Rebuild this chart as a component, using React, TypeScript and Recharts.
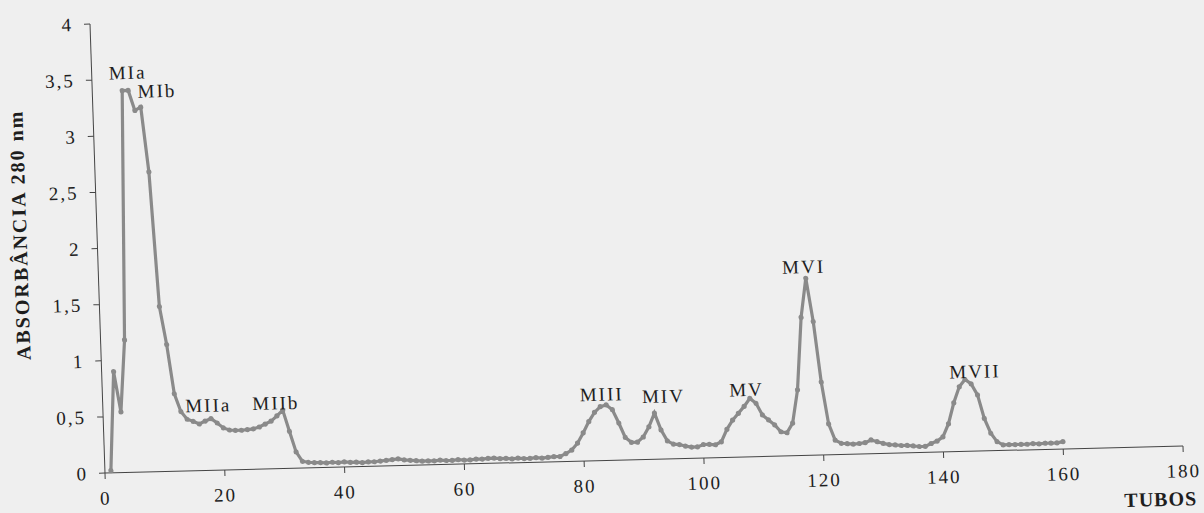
import { LineChart, Line, XAxis, YAxis, ReferenceDot } from "recharts";

// absorbância (280 nm) por tubo, tubos 1..160
const absorbance = [
  0.02, 0.9, 0.54, 1.18, 3.4, 3.4, 3.22, 3.25, 2.67, 1.47,
  1.13, 0.69, 0.53, 0.46, 0.44, 0.415, 0.44, 0.46, 0.42, 0.375,
  0.355, 0.35, 0.35, 0.355, 0.36, 0.375, 0.4, 0.425, 0.47, 0.52,
  0.33, 0.145, 0.06, 0.05, 0.045, 0.045, 0.04, 0.045, 0.04, 0.045,
  0.04, 0.04, 0.035, 0.04, 0.04, 0.045, 0.05, 0.055, 0.06, 0.05,
  0.045, 0.04, 0.035, 0.035, 0.035, 0.04, 0.035, 0.035, 0.04, 0.035,
  0.035, 0.04, 0.04, 0.045, 0.045, 0.04, 0.04, 0.035, 0.04, 0.035,
  0.035, 0.04, 0.035, 0.04, 0.045, 0.045, 0.07, 0.1, 0.16, 0.25,
  0.35, 0.43, 0.48, 0.494, 0.45, 0.33, 0.2, 0.155, 0.155, 0.2,
  0.29, 0.41, 0.26, 0.16, 0.13, 0.125, 0.11, 0.1, 0.1, 0.12,
  0.12, 0.115, 0.14, 0.25, 0.33, 0.39, 0.45, 0.52, 0.475, 0.37,
  0.324, 0.278, 0.216, 0.206, 0.29, 0.585, 1.23, 1.577, 1.19, 0.65,
  0.275, 0.13, 0.1, 0.095, 0.09, 0.094, 0.1, 0.123, 0.106, 0.09,
  0.078, 0.073, 0.067, 0.066, 0.06, 0.054, 0.054, 0.078, 0.098, 0.134,
  0.25, 0.435, 0.577, 0.64, 0.6, 0.5, 0.29, 0.156, 0.08, 0.05,
  0.05, 0.05, 0.05, 0.05, 0.055, 0.05, 0.055, 0.055, 0.055, 0.065,
];

const tubes = Array.from({ length: absorbance.length }, (_, i) => i + 1);

const xTicks = [0, 20, 40, 60, 80, 100, 120, 140, 160, 180];
const yTicks = [0, 0.5, 1, 1.5, 2, 2.5, 3, 3.5, 4];

// peak names, anchored in data space (label centre)
const peakNames = ["MIa", "MIb", "MIIa", "MIIb", "MIII", "MIV", "MV", "MVI", "MVII"];
const peakTubes = [6, 10.8, 17.6, 28.9, 83.3, 93.6, 107.5, 117.7, 145.7];
const peakValues = [3.56, 3.39, 0.58, 0.585, 0.59, 0.56, 0.6, 1.68, 0.71];

const data = tubes.map((tube, i) => ({ tube, abs: absorbance[i] }));

const SERIF = '"Liberation Serif", "Times New Roman", serif';
const INK = "#1e1e1e";
const LINE = "#8a8a8a";

const fmt = (v: number) => String(v).replace(".", ",");

export default function App() {
  return (
    <div
      style={{
        position: "absolute",
        left: 0,
        top: 0,
        width: 1204,
        height: 513,
        overflow: "hidden",
        background: "#efefef",
      }}
    >
      {/* the scan is slightly skewed, so the whole figure is too */}
      <div
        style={{
          position: "absolute",
          left: 0,
          top: 0,
          width: 1204,
          height: 560,
          transformOrigin: "105px 473px",
          transform: "matrix(1, -0.0251, 0.0334, 1, 0, 0)",
        }}
      >
        <LineChart
          width={1204}
          height={560}
          data={data}
          margin={{ top: 24, right: 21, bottom: 57, left: 45 }}
        >
          <XAxis
            dataKey="tube"
            type="number"
            domain={[0, 180]}
            ticks={xTicks}
            height={30}
            tickSize={6}
            tickMargin={12}
            axisLine={{ stroke: "#444", strokeWidth: 1 }}
            tickLine={{ stroke: "#444" }}
            tick={{ fill: INK, fontSize: 19, fontFamily: SERIF, letterSpacing: 2 }}
          />
          <YAxis
            type="number"
            domain={[0, 4]}
            ticks={yTicks}
            width={60}
            tickSize={6}
            tickMargin={11}
            tickFormatter={fmt}
            axisLine={{ stroke: "#444", strokeWidth: 1 }}
            tickLine={{ stroke: "#444" }}
            tick={{ fill: INK, fontSize: 19, fontFamily: SERIF, letterSpacing: 2 }}
          />
          <Line
            type="linear"
            dataKey="abs"
            stroke={LINE}
            strokeWidth={3.2}
            dot={{ r: 2.6, fill: LINE, stroke: LINE, strokeWidth: 0 }}
            isAnimationActive={false}
          />
          {peakNames.map((name, i) => (
            <ReferenceDot
              key={name}
              x={peakTubes[i]}
              y={peakValues[i]}
              r={0}
              shape={(p: any) => (
                <text
                  x={p.cx}
                  y={p.cy}
                  textAnchor="middle"
                  dominantBaseline="central"
                  fill={INK}
                  fontSize={19}
                  fontFamily={SERIF}
                  letterSpacing={2}
                >
                  {name}
                </text>
              )}
            />
          ))}
        </LineChart>

        <div
          style={{
            position: "absolute",
            left: 28,
            top: 233,
            transform: "translate(-50%, -50%) rotate(-90deg)",
            whiteSpace: "nowrap",
            fontFamily: SERIF,
            fontWeight: "bold",
            fontSize: 20,
            letterSpacing: 2,
            color: INK,
          }}
        >
          ABSORBÂNCIA 280 nm
        </div>
        <div
          style={{
            position: "absolute",
            left: 1159,
            top: 526,
            transform: "translate(-50%, -50%)",
            whiteSpace: "nowrap",
            fontFamily: SERIF,
            fontWeight: "bold",
            fontSize: 20,
            letterSpacing: 1,
            color: INK,
          }}
        >
          TUBOS
        </div>
      </div>
    </div>
  );
}
